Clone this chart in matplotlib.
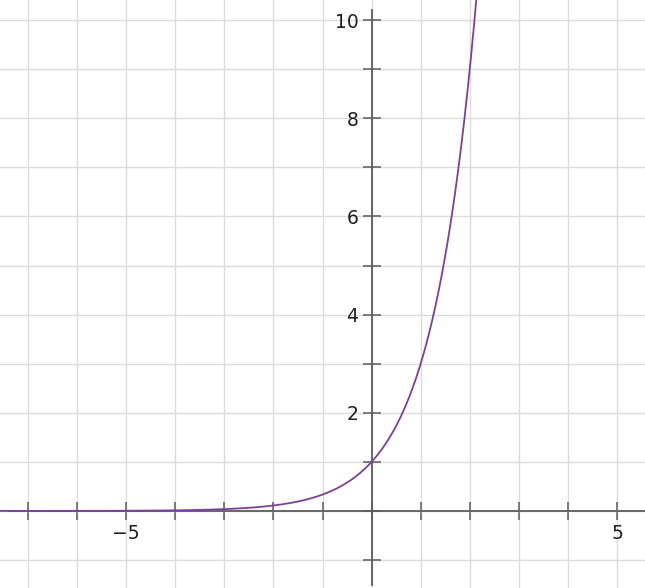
import numpy as np
import matplotlib
matplotlib.use('Agg')
import matplotlib.pyplot as plt

# curve y = base ** x
base = 3
x_range = (-7.6, 2.2)

# view window
x_lim = (-7.57, 5.57)
y_lim = (-1.57, 10.41)

x_ticks = list(range(-7, 6))
y_ticks = list(range(-1, 11))
x_labels = {-5: '\u22125', 5: '5'}
y_labels = {2: '2', 4: '4', 6: '6', 8: '8', 10: '10'}

fig = plt.figure(figsize=(6.45, 5.88), dpi=100)
ax = fig.add_axes([0, 0, 1, 1])

xs = np.linspace(x_range[0], x_range[1], 600)
ax.plot(xs, base ** xs, color='#7e3f9c', lw=1.3, zorder=3)

ax.set_xlim(*x_lim)
ax.set_ylim(*y_lim)

# background grid at every unit
ax.set_xticks(x_ticks)
ax.set_yticks(y_ticks)
ax.grid(True, color='#dcdcdc', lw=1.0, zorder=0)
ax.set_axisbelow(True)

# axes through the origin
for side in ('top', 'right'):
    ax.spines[side].set_visible(False)
ax.spines['bottom'].set_position(('data', 0))
ax.spines['left'].set_position(('data', 0))
ax.spines['bottom'].set_bounds(-7.38, x_lim[1])
ax.spines['left'].set_bounds(-1.5, 10.2)
for side in ('bottom', 'left'):
    ax.spines[side].set_color('#5c5c5c')
    ax.spines[side].set_linewidth(1.3)

ax.tick_params(direction='inout', length=13, width=1.1, color='#5c5c5c',
               labelsize=13.5, labelcolor='#1e1e1e')
ax.tick_params(axis='x', pad=3)
ax.tick_params(axis='y', pad=3)
ax.set_xticklabels([x_labels.get(t, '') for t in x_ticks])
ax.set_yticklabels([y_labels.get(t, '') for t in y_ticks])

fig.savefig('out.png', dpi=100)
